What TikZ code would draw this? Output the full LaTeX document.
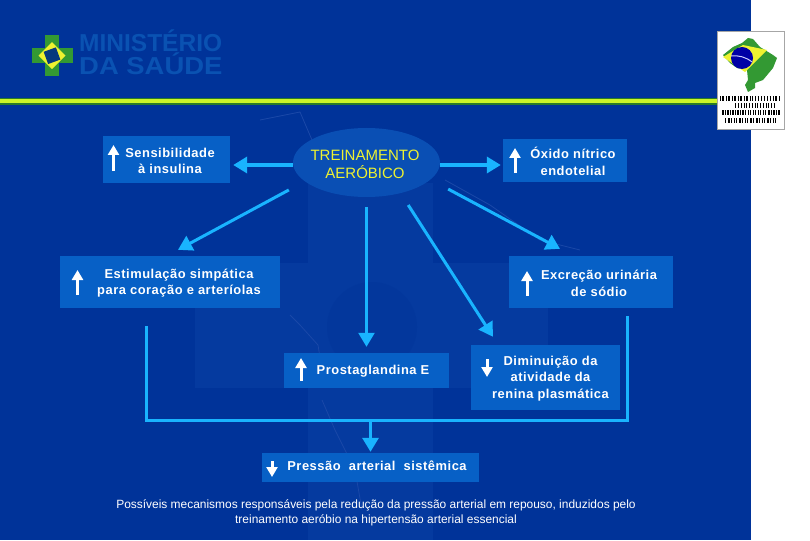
\documentclass[tikz,border=0pt]{standalone}
\usepackage{fontspec}
\setmainfont{Liberation Sans}
\newfontfamily\boxfont[LetterSpace=4]{Liberation Sans}
\newfontfamily\wideboldfont[FakeStretch=1.12]{Liberation Sans}
\usetikzlibrary{positioning,arrows.meta,shapes.geometric}
\definecolor{slidebg}{HTML}{003399}
\definecolor{boxblue}{HTML}{0760C6}
\definecolor{ellblue}{HTML}{0A4FB4}
\definecolor{arrblue}{HTML}{19B4FF}
\definecolor{faintblue}{HTML}{053A9F}
\definecolor{faintline}{HTML}{1A48A8}
\definecolor{logoblue}{HTML}{0A52B2}
\definecolor{flaggreen}{HTML}{339933}
\definecolor{flagyellow}{HTML}{EEF230}
\begin{document}
\begin{tikzpicture}[
  x=1pt,y=-1pt,
  box/.style={fill=boxblue,inner sep=0pt},
  txt/.style={align=center,text=white,font=\boxfont\bfseries\fontsize{12.9}{16.5}\selectfont,inner sep=0pt},
  arr/.style={-{Triangle[length=14pt,width=16pt]},arrblue,line width=3pt},
  bar/.style={arrblue,line width=3pt},
  icon/.style={-{Triangle[length=10pt,width=11pt]},white,line width=3pt},
  tick/.style={black,line width=5pt},
  logotxt/.style={anchor=base west,inner sep=0pt,text=logoblue,font=\bfseries\fontsize{24.5}{24.5}\selectfont},
]
\useasboundingbox (0,0) rectangle (810,540);
\fill[white] (0,0) rectangle (810,540);
\fill[slidebg] (0,0) rectangle (751,540);
% watermark
\fill[faintblue] (195,263) rectangle (548,388);
\fill[faintblue] (308,183) rectangle (433,540);
\fill[slidebg!50!faintblue] (372,327) circle (45);
\draw[faintline,line width=.8pt] (260,120) -- (300,112) -- (312,140) -- (300,160);
\draw[faintline,line width=.8pt] (290,315) -- (300,325) -- (318,345) -- (322,370);
\draw[faintline,line width=.8pt] (322,400) -- (335,430) -- (355,470) -- (362,510);
\draw[faintline,line width=.8pt] (445,180) -- (490,205) -- (540,240) -- (580,250);
% logo
\fill[flaggreen] (45,35) rectangle (59.3,76);
\fill[flaggreen] (31.7,48) rectangle (72.7,62.7);
\fill[flagyellow] (52,42) -- (65.5,55.7) -- (52,69) -- (38.5,55.7) -- cycle;
\fill[logoblue!70!black,rotate around={20:(52,55.7)}] (45.5,49.2) rectangle (58.5,62.2);
\node[logotxt] (minist) at (79,52) {MINISTÉRIO};
\node[logotxt] (saude) at (79,75) {\wideboldfont\bfseries DA SAÚDE};
% top rule
\fill[flaggreen!80!black] (0,98) rectangle (717,105);
\fill[flagyellow!85!green] (0,99.5) rectangle (717,103);
% badge
\draw[gray!70,fill=white,line width=.8pt] (717,31) rectangle (784,129);
\fill[flaggreen] (723,55) -- (733,47) -- (742,43) -- (748,38) -- (753,39) -- (760,47) -- (773,55) -- (777,58)
  -- (773,68) -- (763,80) -- (755,83) -- (755,88) -- (748,92) -- (745,85) -- (748,80) -- (747,70) -- (737,68) -- (730,63) -- cycle;
\fill[flagyellow] (723,57) -- (743,45) -- (767,50) -- (745,72) -- cycle;
\fill[blue!65!black] (742,58) circle (11);
\draw[white!80!blue,line width=1pt] (731,56) .. controls (738,55) and (746,57) .. (752,62);
\draw[tick,dash pattern=on 1pt off 1.3pt on 1.6pt off 2pt] (720,99) -- (781,99);
\draw[tick,dash pattern=on 1.3pt off 2pt on 1pt off 1.2pt] (735,106) -- (775,106);
\draw[tick,dash pattern=on 1.6pt off 1pt on 1pt off 1.5pt] (722,113) -- (780,113);
\draw[tick,dash pattern=on 1pt off 2pt on 1.6pt off 1pt] (725,121) -- (777,121);
% boxes
\node[box,minimum width=127pt,minimum height=47pt] (sens) at (166.5,159.5) {};
\node[box,minimum width=124pt,minimum height=43pt] (oxido) at (565,160.5) {};
\node[box,minimum width=220pt,minimum height=52pt] (estim) at (170,282) {};
\node[box,minimum width=164pt,minimum height=52pt] (excr) at (591,282) {};
\node[box,minimum width=165pt,minimum height=35pt] (prost) at (366.5,370.5) {};
\node[box,minimum width=149pt,minimum height=65pt] (dimin) at (545.5,377.5) {};
\node[box,minimum width=217pt,minimum height=29pt] (press) at (370.5,467.5) {};
\node[ellipse,fill=ellblue,minimum width=147pt,minimum height=69pt,inner sep=0pt] (treino) at (366.5,162.5) {};
% labels
\node[txt] (senstxt) at (170,161) {Sensibilidade\\à insulina};
\node[txt] (oxidotxt) at (573,161.5) {Óxido nítrico\\endotelial};
\node[txt] (estimtxt) at (179,283) {Estimulação simpática\\para coração e arteríolas};
\node[txt] (excrtxt) at (599,283.5) {Excreção urinária\\de sódio};
\node[txt] (prosttxt) at (373,371) {Prostaglandina E};
\node[txt] (dimintxt) at (550.5,378.5) {Diminuição da\\atividade da\\renina plasmática};
\node[txt] (presstxt) at (377,466) {Pressão\ \ arterial\ \ sistêmica};
\node[align=center,text=flagyellow,font=\fontsize{15}{18}\selectfont,inner sep=0pt] (treinotxt) at (365,164) {TREINAMENTO\\AERÓBICO};
\node[align=center,text=white,font=\fontsize{11.95}{15}\selectfont,inner sep=0pt] (nota) at (376,513) {Possíveis mecanismos responsáveis pela redução da pressão arterial em repouso, induzidos pelo\\treinamento aeróbio na hipertensão arterial essencial};
% small arrows
\draw[icon] (113.5,171) -- (113.5,145);
\draw[icon] (515,173) -- (515,148);
\draw[icon] (77.5,295) -- (77.5,270);
\draw[icon] (527,296) -- (527,271);
\draw[icon] (301,381) -- (301,358);
\draw[icon] (487,359) -- (487,377);
\draw[icon] (272,461) -- (272,477);
% connectors
\draw[arr,line width=4pt,shorten >=3pt] ([yshift=-2.5pt]treino.west) -- ([yshift=-2.5pt]treino.west -| sens.east);
\draw[arr,line width=4pt,shorten >=2pt] ([yshift=-2.5pt]treino.east) -- ([yshift=-2.5pt]treino.east -| oxido.west);
\draw[arr,shorten <=18pt] (treino.197) -- ([shift={(8pt,6pt)}]estim.north);
\draw[arr,shorten <=20pt] (treino.-15) -- ([shift={(-31pt,7pt)}]excr.north);
\draw[arr,shorten <=14pt] (treino.-42) -- ([shift={(-52.5pt,8pt)}]dimin.north);
\draw[arr,line width=2.6pt,shorten <=10pt,shorten >=6pt] (treino.south) -- (treino.south |- prost.north);
\coordinate (brA) at (146,326);
\coordinate (brB) at (627,420);
\coordinate (brC) at (627,316);
\draw[bar] (brA) |- (brB) -- (brC);
\draw[arr,shorten >=1pt] (press.north |- brB) -- (press.north);
\end{tikzpicture}
\end{document}
